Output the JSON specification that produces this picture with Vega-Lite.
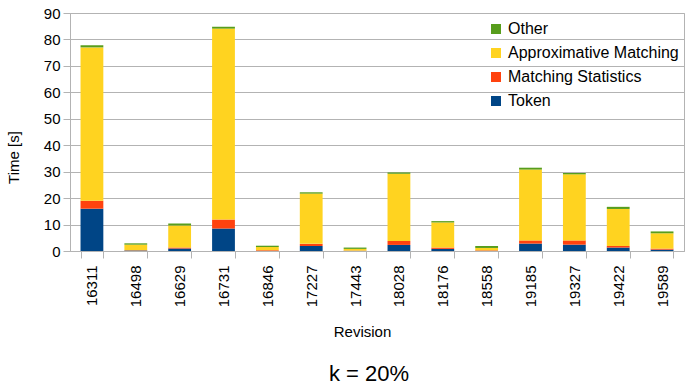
{
  "$schema": "https://vega.github.io/schema/vega-lite/v6.json",
  "autosize": {"type": "none"},
  "padding": {"left": 70, "top": 13, "right": 8, "bottom": 136},
  "width": 614,
  "height": 238,
  "background": "white",
  "config": {
    "font": "Liberation Sans",
    "view": {"stroke": "#b3b3b3", "strokeWidth": 1}
  },
  "title": {
    "text": "k = 20%",
    "orient": "bottom",
    "anchor": "middle",
    "fontSize": 22,
    "fontWeight": "normal",
    "color": "black",
    "font": "Liberation Sans",
    "baseline": "alphabetic",
    "dx": -8,
    "offset": 42
  },
  "data": {
    "values": [
      {"rev": "16311", "part": "Token", "t": 16.0, "o": 1},
      {"rev": "16311", "part": "Matching Statistics", "t": 3.0, "o": 2},
      {"rev": "16311", "part": "Approximative Matching", "t": 58.0, "o": 3},
      {"rev": "16311", "part": "Other", "t": 0.8, "o": 4},
      {"rev": "16498", "part": "Token", "t": 0.2, "o": 1},
      {"rev": "16498", "part": "Matching Statistics", "t": 0.1, "o": 2},
      {"rev": "16498", "part": "Approximative Matching", "t": 2.1, "o": 3},
      {"rev": "16498", "part": "Other", "t": 0.5, "o": 4},
      {"rev": "16629", "part": "Token", "t": 0.9, "o": 1},
      {"rev": "16629", "part": "Matching Statistics", "t": 0.4, "o": 2},
      {"rev": "16629", "part": "Approximative Matching", "t": 8.3, "o": 3},
      {"rev": "16629", "part": "Other", "t": 0.8, "o": 4},
      {"rev": "16731", "part": "Token", "t": 8.5, "o": 1},
      {"rev": "16731", "part": "Matching Statistics", "t": 3.4, "o": 2},
      {"rev": "16731", "part": "Approximative Matching", "t": 72.2, "o": 3},
      {"rev": "16731", "part": "Other", "t": 0.7, "o": 4},
      {"rev": "16846", "part": "Token", "t": 0.05, "o": 1},
      {"rev": "16846", "part": "Matching Statistics", "t": 0.25, "o": 2},
      {"rev": "16846", "part": "Approximative Matching", "t": 1.2, "o": 3},
      {"rev": "16846", "part": "Other", "t": 0.5, "o": 4},
      {"rev": "17227", "part": "Token", "t": 1.9, "o": 1},
      {"rev": "17227", "part": "Matching Statistics", "t": 0.8, "o": 2},
      {"rev": "17227", "part": "Approximative Matching", "t": 19.0, "o": 3},
      {"rev": "17227", "part": "Other", "t": 0.5, "o": 4},
      {"rev": "17443", "part": "Token", "t": 0.05, "o": 1},
      {"rev": "17443", "part": "Matching Statistics", "t": 0.1, "o": 2},
      {"rev": "17443", "part": "Approximative Matching", "t": 0.65, "o": 3},
      {"rev": "17443", "part": "Other", "t": 0.5, "o": 4},
      {"rev": "18028", "part": "Token", "t": 2.3, "o": 1},
      {"rev": "18028", "part": "Matching Statistics", "t": 1.5, "o": 2},
      {"rev": "18028", "part": "Approximative Matching", "t": 25.4, "o": 3},
      {"rev": "18028", "part": "Other", "t": 0.5, "o": 4},
      {"rev": "18176", "part": "Token", "t": 0.8, "o": 1},
      {"rev": "18176", "part": "Matching Statistics", "t": 0.5, "o": 2},
      {"rev": "18176", "part": "Approximative Matching", "t": 9.5, "o": 3},
      {"rev": "18176", "part": "Other", "t": 0.5, "o": 4},
      {"rev": "18558", "part": "Token", "t": 0.05, "o": 1},
      {"rev": "18558", "part": "Matching Statistics", "t": 0.2, "o": 2},
      {"rev": "18558", "part": "Approximative Matching", "t": 0.9, "o": 3},
      {"rev": "18558", "part": "Other", "t": 0.75, "o": 4},
      {"rev": "19185", "part": "Token", "t": 2.8, "o": 1},
      {"rev": "19185", "part": "Matching Statistics", "t": 1.2, "o": 2},
      {"rev": "19185", "part": "Approximative Matching", "t": 26.8, "o": 3},
      {"rev": "19185", "part": "Other", "t": 0.7, "o": 4},
      {"rev": "19327", "part": "Token", "t": 2.4, "o": 1},
      {"rev": "19327", "part": "Matching Statistics", "t": 1.6, "o": 2},
      {"rev": "19327", "part": "Approximative Matching", "t": 25.0, "o": 3},
      {"rev": "19327", "part": "Other", "t": 0.5, "o": 4},
      {"rev": "19422", "part": "Token", "t": 1.3, "o": 1},
      {"rev": "19422", "part": "Matching Statistics", "t": 0.6, "o": 2},
      {"rev": "19422", "part": "Approximative Matching", "t": 14.0, "o": 3},
      {"rev": "19422", "part": "Other", "t": 0.8, "o": 4},
      {"rev": "19589", "part": "Token", "t": 0.5, "o": 1},
      {"rev": "19589", "part": "Matching Statistics", "t": 0.4, "o": 2},
      {"rev": "19589", "part": "Approximative Matching", "t": 5.8, "o": 3},
      {"rev": "19589", "part": "Other", "t": 0.7, "o": 4}
    ]
  },
  "mark": {"type": "bar"},
  "encoding": {
    "x": {
      "field": "rev",
      "type": "nominal",
      "scale": {"paddingInner": 0.48, "paddingOuter": 0.24},
      "axis": {
        "title": "Revision",
        "titleFontSize": 15,
        "titleFontWeight": "normal",
        "titleColor": "black",
        "titleX": 292,
        "titleY": 85,
        "titleBaseline": "alphabetic",
        "labelAngle": -90,
        "labelFontSize": 15,
        "labelColor": "black",
        "labelPadding": 7,
        "tickBand": "extent",
        "tickSize": 7,
        "tickColor": "#b3b3b3",
        "domainColor": "#b3b3b3",
        "grid": false
      }
    },
    "y": {
      "field": "t",
      "type": "quantitative",
      "stack": "zero",
      "scale": {"domain": [0, 90], "nice": false},
      "axis": {
        "title": "Time [s]",
        "titleFontSize": 15,
        "titleFontWeight": "normal",
        "titleColor": "black",
        "titleX": -57,
        "titleY": 144,
        "titleAngle": -90,
        "titleAlign": "center",
        "titleBaseline": "middle",
        "values": [0, 10, 20, 30, 40, 50, 60, 70, 80, 90],
        "labelFontSize": 15,
        "labelColor": "black",
        "labelPadding": 3,
        "tickSize": 7,
        "tickColor": "#b3b3b3",
        "domainColor": "#b3b3b3",
        "gridColor": "#b3b3b3",
        "gridOpacity": 1
      }
    },
    "color": {
      "field": "part",
      "type": "nominal",
      "scale": {
        "domain": ["Other", "Approximative Matching", "Matching Statistics", "Token"],
        "range": ["#579d1c", "#ffd320", "#ff420e", "#004586"]
      },
      "legend": {
        "title": null,
        "orient": "none",
        "legendX": 418,
        "legendY": 8,
        "padding": 0,
        "symbolType": "square",
        "symbolSize": 100,
        "symbolStrokeWidth": 0,
        "symbolOpacity": 1,
        "labelFontSize": 16,
        "labelColor": "black",
        "labelOffset": 4,
        "rowPadding": 8,
        "labelLimit": 300
      }
    },
    "order": {"field": "o", "type": "quantitative", "sort": "ascending"}
  }
}
